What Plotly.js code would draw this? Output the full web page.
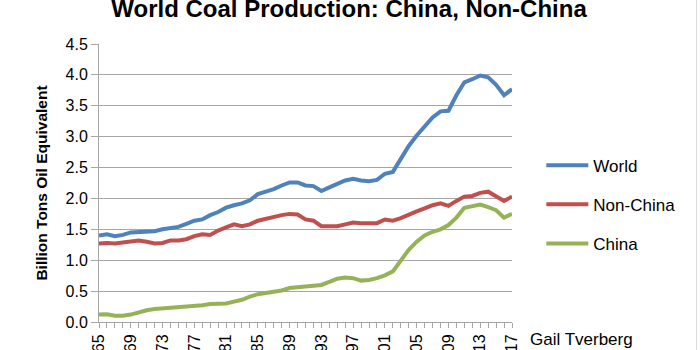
<!DOCTYPE html>
<html>
<head>
<meta charset="utf-8">
<script src="https://cdn.plot.ly/plotly-3.0.1.min.js"></script>
<style>
  html, body { margin: 0; padding: 0; background: #fff; }
  #chart { width: 700px; height: 350px; }
</style>
</head>
<body>
<div id="chart"></div>
<script>
const years = [1965,1966,1967,1968,1969,1970,1971,1972,1973,1974,1975,1976,1977,1978,1979,1980,1981,1982,1983,1984,1985,1986,1987,1988,1989,1990,1991,1992,1993,1994,1995,1996,1997,1998,1999,2000,2001,2002,2003,2004,2005,2006,2007,2008,2009,2010,2011,2012,2013,2014,2015,2016,2017];

const world = [1.40,1.42,1.39,1.41,1.45,1.46,1.47,1.47,1.50,1.52,1.54,1.59,1.64,1.66,1.73,1.78,1.85,1.89,1.92,1.97,2.07,2.11,2.15,2.21,2.26,2.26,2.21,2.20,2.12,2.18,2.24,2.29,2.32,2.29,2.28,2.30,2.40,2.43,2.64,2.85,3.02,3.17,3.31,3.41,3.42,3.67,3.88,3.93,3.99,3.96,3.84,3.67,3.77];

const nonChina = [1.27,1.28,1.27,1.29,1.31,1.32,1.30,1.27,1.28,1.32,1.32,1.34,1.39,1.42,1.41,1.48,1.53,1.58,1.55,1.58,1.64,1.67,1.71,1.73,1.75,1.74,1.66,1.64,1.55,1.55,1.55,1.58,1.61,1.60,1.60,1.60,1.66,1.64,1.68,1.74,1.79,1.84,1.89,1.92,1.88,1.96,2.03,2.04,2.09,2.11,2.04,1.96,2.03];

const china = [0.12,0.125,0.10,0.10,0.12,0.16,0.19,0.21,0.22,0.22,0.23,0.24,0.255,0.27,0.29,0.30,0.30,0.33,0.36,0.41,0.45,0.47,0.49,0.51,0.55,0.56,0.565,0.59,0.60,0.65,0.70,0.72,0.71,0.67,0.68,0.71,0.755,0.82,1.00,1.17,1.30,1.40,1.46,1.50,1.57,1.69,1.85,1.88,1.90,1.86,1.81,1.69,1.75];

const seriesNames = ['World', 'Non-China', 'China'];
const tickYears = [1965,1969,1973,1977,1981,1985,1989,1993,1997,2001,2005,2009,2013,2017];
const tickLabels = ['1965','1969','1973','1977','1981','1985','1989','1993','1997','2001','2005','2009','2013','2017'];

const colors = ['#4F81BD', '#C0504D', '#95B356'];
const FONT = 'Liberation Sans, Arial, sans-serif';

const data = [world, nonChina, china].map((vals, i) => ({
  type: 'scatter',
  mode: 'lines',
  x: years,
  y: vals,
  name: seriesNames[i],
  legendgroup: 'g' + i,
  line: { color: colors[i], width: 4 },
  hoverinfo: 'x+y+name'
}));

const layout = {
  width: 700,
  height: 350,
  margin: { l: 99, r: 188, t: 44, b: 28, pad: 0 },
  paper_bgcolor: '#ffffff',
  plot_bgcolor: '#ffffff',
  font: { family: FONT, color: '#000000', size: 16 },
  title: {
    text: 'World Coal Production: China, Non-China',
    font: { family: FONT, size: 24, weight: 'bold', color: '#000' },
    xref: 'container', x: 0.4986, xanchor: 'center',
    yref: 'container', y: 0.952, yanchor: 'bottom'
  },
  xaxis: {
    type: 'linear',
    range: [1965, 2017],
    tickmode: 'array',
    tickvals: tickYears,
    ticktext: tickLabels,
    tickangle: -90,
    ticks: 'outside',
    ticklen: 5,
    tickcolor: '#A6A6A6',
    tickfont: { family: FONT, size: 16, color: '#000' },
    minor: { dtick: 1, tick0: 1965, ticks: 'outside', ticklen: 5, tickcolor: '#A6A6A6', showgrid: false },
    showgrid: false,
    zeroline: false,
    showline: true,
    linecolor: '#A6A6A6',
    linewidth: 1
  },
  yaxis: {
    range: [0, 4.5],
    dtick: 0.5,
    tick0: 0,
    tickformat: '.1f',
    ticks: 'outside',
    ticklen: 7,
    tickcolor: '#A6A6A6',
    tickfont: { family: FONT, size: 16, color: '#000' },
    showgrid: true,
    gridcolor: '#A6A6A6',
    gridwidth: 1,
    zeroline: false,
    showline: true,
    linecolor: '#A6A6A6',
    linewidth: 1,
    title: {
      text: 'Billion Tons Oil Equivalent',
      font: { family: FONT, size: 15.5, weight: 'bold', color: '#000' },
      standoff: 14
    }
  },
  showlegend: true,
  legend: {
    x: 1.071, xanchor: 'left',
    y: 0.627, yanchor: 'top',
    font: { family: FONT, size: 17, color: '#000' },
    bgcolor: 'rgba(0,0,0,0)',
    borderwidth: 0,
    tracegroupgap: 14,
    itemwidth: 42,
    traceorder: 'grouped'
  },
  annotations: [
    {
      text: 'Gail Tverberg',
      xref: 'paper', yref: 'paper',
      x: 1.0387, xanchor: 'left',
      y: -0.0647, yanchor: 'middle',
      showarrow: false,
      font: { family: FONT, size: 17, color: '#000' }
    }
  ],
  shapes: [
    {
      type: 'line', xref: 'paper', yref: 'paper',
      x0: 1.4467, x1: 1.4467, y0: -0.11, y1: 1.17,
      line: { color: '#D9D9D9', width: 1 }
    }
  ]
};

Plotly.newPlot('chart', data, layout, { displayModeBar: false, staticPlot: true });
</script>
</body>
</html>
